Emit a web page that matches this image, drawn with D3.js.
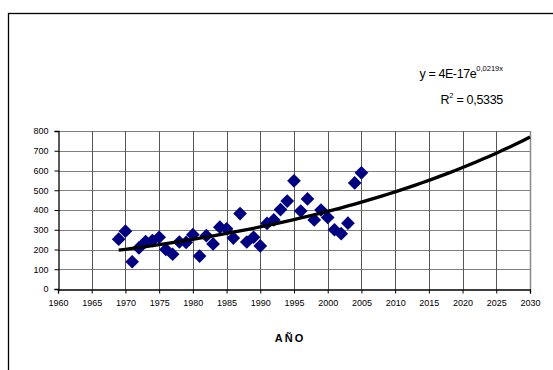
<!DOCTYPE html>
<html>
<head>
<meta charset="utf-8">
<script src="https://cdn.jsdelivr.net/npm/d3@7"></script>
<style>
  html, body { margin: 0; padding: 0; background: #fff; }
  svg { display: block; font-family: Arial, "Liberation Sans", sans-serif; }
</style>
</head>
<body>
<svg id="chart" width="553" height="370"></svg>
<script>
// ---- data ----
const years = [1969,1970,1971,1972,1973,1974,1975,1976,1977,1978,1979,1980,1981,1982,1983,1984,1985,1986,1987,1988,1989,1990,1991,1992,1993,1994,1995,1996,1997,1998,1999,2000,2001,2002,2003,2004,2005];
const values = [252,293,138,208,240,245,262,200,176,238,236,275,167,270,228,313,305,258,382,238,262,218,332,350,402,445,548,395,456,350,400,362,300,280,333,537,588];
const xTicks = [1960,1965,1970,1975,1980,1985,1990,1995,2000,2005,2010,2015,2020,2025,2030];
const yTicks = [0,100,200,300,400,500,600,700,800];
const trendEnd = 2030;
const xTitle = "AÑO";
const eqLine1 = "y = 4E-17e";
const eqSup = "0,0219x";
const eqLine2a = "R";
const eqLine2sup = "2";
const eqLine2b = " = 0,5335";

// exponential least-squares fit (as the spreadsheet trendline does)
const lx = years, ly = values.map(v => Math.log(v));
const mx = d3.mean(lx), my = d3.mean(ly);
const b = d3.sum(lx.map((x,i)=>(x-mx)*(ly[i]-my))) / d3.sum(lx.map(x=>(x-mx)*(x-mx)));
const lnA = my - b*mx;
const trendYears = d3.range(years[0], trendEnd + 1);
const trend = trendYears.map(y => [y, Math.exp(lnA + b*y)]);

const svg = d3.select("#chart");

// outer chart frame
svg.append("rect").attr("x", 8.5).attr("y", 13.5).attr("width", 600).attr("height", 400)
  .attr("fill", "none").attr("stroke", "#000").attr("stroke-width", 1.3);

const x = d3.scaleLinear().domain([1960, 2030]).range([58, 530]);
const y = d3.scaleLinear().domain([0, 800]).range([289, 131]);

// gridlines
const g = svg.append("g");
g.selectAll("line.h").data(yTicks.filter(t=>t>0)).join("line")
  .attr("x1", x(1960)).attr("x2", x(2030))
  .attr("y1", d=>Math.round(y(d))+0.5).attr("y2", d=>Math.round(y(d))+0.5)
  .attr("stroke", "#7f7f7f").attr("stroke-width", 1);
g.selectAll("line.v").data(xTicks.filter(t=>t>1960)).join("line")
  .attr("x1", d=>Math.round(x(d))+0.5).attr("x2", d=>Math.round(x(d))+0.5)
  .attr("y1", y(800)).attr("y2", y(0))
  .attr("stroke", d => d===2030 ? "#8a8a8a" : "#555").attr("stroke-width", d => d===2030 ? 1.5 : 1);

// axes
const xAxis = d3.axisBottom(x).tickValues(xTicks).tickFormat(d3.format("d")).tickSize(4).tickPadding(6);
const yAxis = d3.axisLeft(y).tickValues(yTicks).tickSize(4).tickPadding(6);
const gx = svg.append("g").attr("transform", `translate(0,${Math.round(y(0))+0.5})`).call(xAxis);
const gy = svg.append("g").attr("transform", `translate(${Math.round(x(1960))+0.5},0)`).call(yAxis);
[gx, gy].forEach(a => {
  a.select(".domain").attr("stroke", "#000").attr("stroke-width", 1.3);
  a.selectAll(".tick line").attr("stroke", "#000");
  a.selectAll("text").attr("font-size", 9).attr("fill", "#000").attr("font-family", "Arial, 'Liberation Sans', sans-serif");
});

// data points (diamonds)
svg.append("g").selectAll("path").data(years.map((yr,i)=>[yr, values[i]])).join("path")
  .attr("d", d3.symbol(d3.symbolDiamond2, 120))
  .attr("transform", d => `translate(${x(d[0])},${y(d[1])})`)
  .attr("fill", "#000080");

// trend line
svg.append("path").datum(trend)
  .attr("d", d3.line().x(d=>x(d[0])).y(d=>y(d[1])))
  .attr("fill", "none").attr("stroke", "#000").attr("stroke-width", 3.3).attr("stroke-linejoin", "round");

// axis title
svg.append("text").attr("x", 290).attr("y", 342).attr("text-anchor", "middle")
  .attr("font-size", 11).attr("font-weight", "bold").attr("letter-spacing", 2)
  .text(xTitle);

// equation
const eq = svg.append("text").attr("x", 503).attr("y", 78).attr("text-anchor", "end")
  .attr("font-size", 12.5).attr("letter-spacing", -0.4);
eq.append("tspan").text(eqLine1);
eq.append("tspan").attr("dy", -7).attr("font-size", 7.5).attr("letter-spacing", 0).text(eqSup);
const r2 = svg.append("text").attr("x", 503).attr("y", 104).attr("text-anchor", "end")
  .attr("font-size", 12.5).attr("letter-spacing", -0.3);
r2.append("tspan").text(eqLine2a);
r2.append("tspan").attr("dy", -6).attr("font-size", 7.5).text(eqLine2sup);
r2.append("tspan").attr("dy", 6).text(eqLine2b);
</script>
</body>
</html>
